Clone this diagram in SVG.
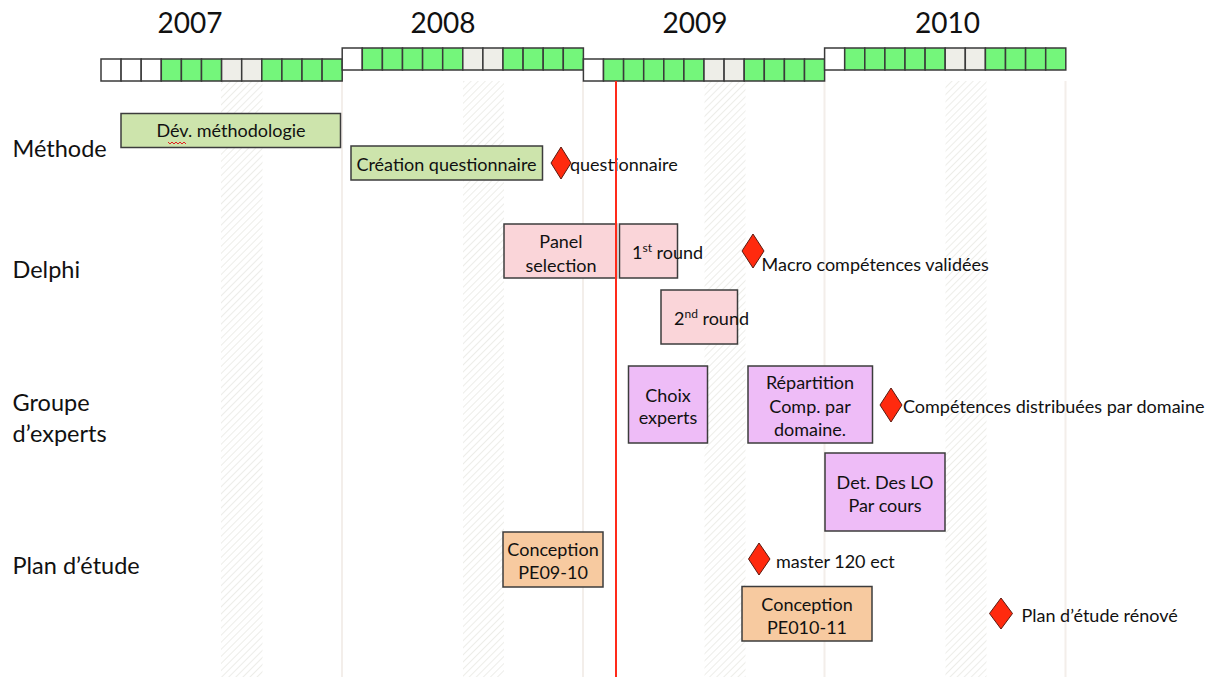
<svg xmlns="http://www.w3.org/2000/svg" width="1211" height="677" viewBox="0 0 1211 677">
<defs>
<pattern id="hatch" patternUnits="userSpaceOnUse" width="5" height="5" patternTransform="rotate(45)">
<line x1="0" y1="0" x2="0" y2="5" stroke="#e9e9e3" stroke-width="1.6"/>
</pattern>
<style>
text{font-family:Lato,"Liberation Sans",sans-serif;fill:#111}
.yr{font-size:28px;text-anchor:middle}
.row{font-size:23.5px}
.bt{font-size:18px;text-anchor:middle}
.ms{font-size:18px}
.w{fill:#ffffff;stroke:#3a3a3a;stroke-width:1.5}
.g{fill:#74f67b;stroke:#3a3a3a;stroke-width:1.5}
.v{fill:#eeeee8;stroke:#3a3a3a;stroke-width:1.5}
.box{stroke:#3c3c3c;stroke-width:1.5}
.meth{fill:#cde4ac}
.del{fill:#fad5d9}
.exp{fill:#eebcf7}
.plan{fill:#f7caa0}
.dia{fill:#ff2a0e;stroke:#5a1a10;stroke-width:1}
.ylin{stroke:#f3eeea;stroke-width:2}
</style>
</defs>
<rect width="1211" height="677" fill="#ffffff"/>
<g id="background">
<rect x="221" y="81" width="41.5" height="596" fill="url(#hatch)"/>
<rect x="463" y="81" width="41" height="596" fill="url(#hatch)"/>
<rect x="704.5" y="81" width="41" height="596" fill="url(#hatch)"/>
<rect x="945.5" y="81" width="41" height="596" fill="url(#hatch)"/>
<line class="ylin" x1="342" y1="81" x2="342" y2="677"/>
<line class="ylin" x1="583" y1="81" x2="583" y2="677"/>
<line class="ylin" x1="824.5" y1="81" x2="824.5" y2="677"/>
<line class="ylin" x1="1065.5" y1="81" x2="1065.5" y2="677"/>
</g>
<g id="years">
<text class="yr" x="190" y="33">2007</text>
<text class="yr" x="443" y="33">2008</text>
<text class="yr" x="695" y="33">2009</text>
<text class="yr" x="947.5" y="33">2010</text>
</g>
<g id="timeline">
<g id="y2007">
<rect class="w" x="101" y="59" width="20.1" height="22"/>
<rect class="w" x="121.1" y="59" width="20.1" height="22"/>
<rect class="w" x="141.2" y="59" width="20.1" height="22"/>
<rect class="g" x="161.3" y="59" width="20.1" height="22"/>
<rect class="g" x="181.4" y="59" width="20.1" height="22"/>
<rect class="g" x="201.5" y="59" width="20.1" height="22"/>
<rect class="v" x="221.6" y="59" width="20.1" height="22"/>
<rect class="v" x="241.7" y="59" width="20.1" height="22"/>
<rect class="g" x="261.8" y="59" width="20.1" height="22"/>
<rect class="g" x="281.9" y="59" width="20.1" height="22"/>
<rect class="g" x="302" y="59" width="20.1" height="22"/>
<rect class="g" x="322.1" y="59" width="20.1" height="22"/>
</g>
<g id="y2008">
<rect class="w" x="342.2" y="48" width="20.1" height="22"/>
<rect class="g" x="362.3" y="48" width="20.1" height="22"/>
<rect class="g" x="382.4" y="48" width="20.1" height="22"/>
<rect class="g" x="402.5" y="48" width="20.1" height="22"/>
<rect class="g" x="422.6" y="48" width="20.1" height="22"/>
<rect class="g" x="442.7" y="48" width="20.1" height="22"/>
<rect class="v" x="462.8" y="48" width="20.1" height="22"/>
<rect class="v" x="482.9" y="48" width="20.1" height="22"/>
<rect class="g" x="503" y="48" width="20.1" height="22"/>
<rect class="g" x="523.1" y="48" width="20.1" height="22"/>
<rect class="g" x="543.2" y="48" width="20.1" height="22"/>
<rect class="g" x="563.3" y="48" width="20.1" height="22"/>
</g>
<g id="y2009">
<rect class="w" x="583.4" y="59" width="20.1" height="22"/>
<rect class="g" x="603.5" y="59" width="20.1" height="22"/>
<rect class="g" x="623.6" y="59" width="20.1" height="22"/>
<rect class="g" x="643.7" y="59" width="20.1" height="22"/>
<rect class="g" x="663.8" y="59" width="20.1" height="22"/>
<rect class="g" x="683.9" y="59" width="20.1" height="22"/>
<rect class="v" x="704" y="59" width="20.1" height="22"/>
<rect class="v" x="724.1" y="59" width="20.1" height="22"/>
<rect class="g" x="744.2" y="59" width="20.1" height="22"/>
<rect class="g" x="764.3" y="59" width="20.1" height="22"/>
<rect class="g" x="784.4" y="59" width="20.1" height="22"/>
<rect class="g" x="804.5" y="59" width="20.1" height="22"/>
</g>
<g id="y2010">
<rect class="w" x="824.6" y="48" width="20.1" height="22"/>
<rect class="g" x="844.7" y="48" width="20.1" height="22"/>
<rect class="g" x="864.8" y="48" width="20.1" height="22"/>
<rect class="g" x="884.9" y="48" width="20.1" height="22"/>
<rect class="g" x="905" y="48" width="20.1" height="22"/>
<rect class="g" x="925.1" y="48" width="20.1" height="22"/>
<rect class="v" x="945.2" y="48" width="20.1" height="22"/>
<rect class="v" x="965.3" y="48" width="20.1" height="22"/>
<rect class="g" x="985.4" y="48" width="20.1" height="22"/>
<rect class="g" x="1005.5" y="48" width="20.1" height="22"/>
<rect class="g" x="1025.6" y="48" width="20.1" height="22"/>
<rect class="g" x="1045.7" y="48" width="20.1" height="22"/>
</g>
</g>
<g id="row-labels">
<text class="row" x="12.5" y="157">Méthode</text>
<text class="row" x="12.5" y="278">Delphi</text>
<text class="row" x="12.5" y="411">Groupe</text>
<text class="row" x="12.5" y="442">d’experts</text>
<text class="row" x="12.5" y="574">Plan d’étude</text>
</g>
<g id="connectors"></g>
<g id="node-dev-methodologie">
<rect class="box meth" x="121" y="113.5" width="219.5" height="34"/>
<text class="bt" x="231" y="137">Dév. méthodologie</text>
<polyline points="168,142 170,144 172,142 174,144 176,142 178,144 180,142 182,144 184,142 186,144" fill="none" stroke="#e02020" stroke-width="1"/>
</g>
<g id="node-creation-questionnaire">
<rect class="box meth" x="351" y="146" width="191.5" height="34"/>
<text class="bt" x="446.5" y="171">Création questionnaire</text>
</g>
<g id="ms-questionnaire">
<polygon class="dia" points="561,147 571,163 561,179 551,163"/>
<text class="ms" x="570" y="171">questionnaire</text>
</g>
<g id="node-panel-selection">
<rect class="box del" x="504" y="224" width="112.5" height="54"/>
<text class="bt" x="561" y="248">Panel</text>
<text class="bt" x="561" y="271.5">selection</text>
</g>
<g id="node-1st-round">
<rect class="box del" x="619.5" y="224" width="58" height="54"/>
<text class="ms" x="632" y="258.5">1<tspan font-size="12" dy="-7">st</tspan><tspan dy="7"> round</tspan></text>
</g>
<g id="ms-macro">
<polygon class="dia" points="753,234 764,251 753,268 742,251"/>
<text class="ms" x="761.5" y="271">Macro compétences validées</text>
</g>
<g id="node-2nd-round">
<rect class="box del" x="661" y="290" width="76.5" height="54"/>
<text class="ms" x="674" y="325">2<tspan font-size="12" dy="-7">nd</tspan><tspan dy="7"> round</tspan></text>
</g>
<g id="node-choix-experts">
<rect class="box exp" x="628.5" y="366" width="79" height="77"/>
<text class="bt" x="668" y="401.5">Choix</text>
<text class="bt" x="668" y="424">experts</text>
</g>
<g id="node-repartition">
<rect class="box exp" x="748" y="366" width="124.5" height="77"/>
<text class="bt" x="810" y="389">Répartition</text>
<text class="bt" x="810" y="412.5">Comp. par</text>
<text class="bt" x="810" y="435.5">domaine.</text>
</g>
<g id="ms-competences">
<polygon class="dia" points="891,388 902,405 891,422 880,405"/>
<text class="ms" x="903" y="412.5">Compétences distribuées par domaine</text>
</g>
<g id="node-det-lo">
<rect class="box exp" x="825" y="453" width="120" height="78"/>
<text class="bt" x="885" y="488.5">Det. Des LO</text>
<text class="bt" x="885" y="511.5">Par cours</text>
</g>
<g id="node-conception-0910">
<rect class="box plan" x="503" y="532" width="100" height="55"/>
<text class="bt" x="553" y="555.5">Conception</text>
<text class="bt" x="553" y="578.5">PE09-10</text>
</g>
<g id="ms-master">
<polygon class="dia" points="759,543 770,559 759,575 748.5,559"/>
<text class="ms" x="776" y="567.5">master 120 ect</text>
</g>
<g id="node-conception-1011">
<rect class="box plan" x="742" y="586.5" width="130" height="54.5"/>
<text class="bt" x="807" y="610.5">Conception</text>
<text class="bt" x="807" y="633.5">PE010-11</text>
</g>
<g id="ms-plan-renove">
<polygon class="dia" points="1001,598 1012.5,613.5 1001,629 989.5,613.5"/>
<text class="ms" x="1021.5" y="621.5">Plan d’étude rénové</text>
</g>
<g id="today-line">
<line x1="616" y1="81" x2="616" y2="677" stroke="#ff2a1a" stroke-width="2"/>
</g>
</svg>
